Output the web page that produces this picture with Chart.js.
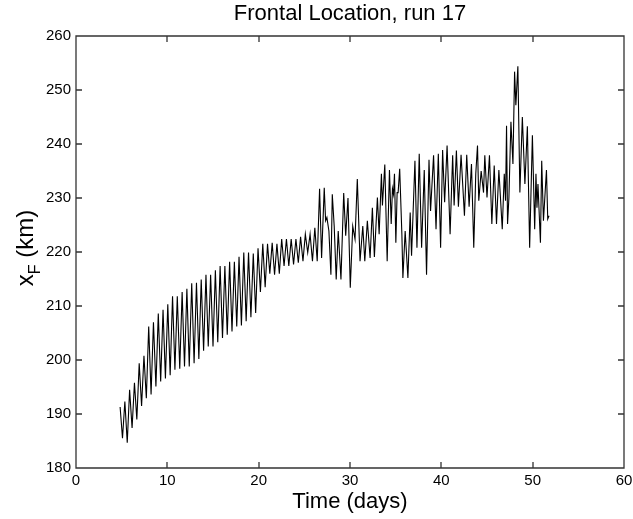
<!DOCTYPE html>
<html>
<head>
<meta charset="utf-8">
<script src="https://cdn.jsdelivr.net/npm/chart.js@4.4.1/dist/chart.umd.min.js"></script>
<style>
  html, body { margin: 0; padding: 0; background: #fff; }
  #wrap { width: 633px; height: 519px; }
</style>
</head>
<body>
<div id="wrap"><canvas id="frontChart" width="633" height="519"></canvas></div>
<script>
// time (days) and frontal position x_F (km)
const days = [
  4.83, 5.09, 5.35, 5.61, 5.87, 6.14, 6.40, 6.66, 6.92, 7.18,
  7.44, 7.70, 7.96, 8.22, 8.48, 8.75, 9.01, 9.27, 9.53, 9.79,
  10.05, 10.31, 10.57, 10.83, 11.09, 11.36, 11.62, 11.88, 12.14, 12.40,
  12.67, 12.93, 13.19, 13.45, 13.71, 13.97, 14.23, 14.48, 14.74, 15.00,
  15.26, 15.52, 15.78, 16.04, 16.30, 16.56, 16.82, 17.08, 17.34, 17.60,
  17.85, 18.11, 18.37, 18.63, 18.89, 19.15, 19.41, 19.67, 19.93, 20.19,
  20.45, 20.71, 20.97, 21.22, 21.48, 21.74, 22.00, 22.26, 22.52, 22.78,
  23.04, 23.30, 23.56, 23.82, 24.08, 24.34, 24.59, 24.85, 25.11, 25.37,
  25.63, 25.89, 26.15, 26.41,
  26.67, 26.89, 27.18, 27.33, 27.47, 27.69, 27.91, 28.06, 28.27, 28.49,
  28.71, 29.01, 29.31, 29.53, 29.78, 30.03, 30.30, 30.55, 30.80, 31.10,
  31.40, 31.62, 31.90, 32.20, 32.45, 32.67, 33.00, 33.19, 33.44, 33.55,
  33.81, 34.07, 34.32, 34.51, 34.65, 34.76, 34.87, 35.02, 35.16, 35.27,
  35.44, 35.68, 35.79, 36.04, 36.34, 36.59, 36.74, 37.11, 37.33, 37.58,
  37.84, 38.13, 38.38, 38.65, 38.82, 39.15, 39.42, 39.67, 39.92, 40.14,
  40.36, 40.63, 40.96, 41.24, 41.40, 41.65, 41.87, 42.16, 42.53, 42.78,
  43.04, 43.30, 43.55, 43.77, 43.96, 44.10, 44.36, 44.62, 44.76, 45.00,
  45.27, 45.53, 45.79, 46.04, 46.30, 46.67, 46.89, 47.03, 47.14, 47.25,
  47.40, 47.62, 47.84, 48.02, 48.16, 48.38, 48.60, 48.87, 49.15, 49.42,
  49.67, 49.97, 50.22, 50.36, 50.47, 50.58, 50.85, 50.99, 51.18, 51.51,
  51.65, 51.79
];
const xF = [
  191.3, 185.5, 192.3, 184.7, 194.5, 187.4, 195.8, 189.0, 199.4, 191.5,
  200.8, 192.9, 206.2, 193.6, 207.0, 195.1, 208.6, 196.0, 209.3, 196.6,
  210.3, 197.2, 211.8, 198.2, 211.8, 198.4, 212.6, 198.8, 213.2, 198.8,
  214.2, 199.4, 214.3, 200.2, 214.9, 201.7, 215.8, 202.5, 215.8, 202.5,
  216.6, 203.3, 217.4, 204.1, 217.4, 204.7, 218.2, 205.3, 218.2, 206.2,
  219.1, 206.4, 219.9, 207.2, 219.9, 207.9, 219.7, 208.7, 220.7, 212.6,
  221.5, 213.5, 221.5, 216.0, 221.7, 215.8, 221.5, 216.0, 222.4, 217.4,
  222.4, 217.4, 222.4, 217.7, 222.4, 218.0, 222.8, 218.3, 223.3, 219.9,
  223.3, 218.3, 224.5, 218.3,
  231.7, 218.9, 231.9, 225.8, 226.4, 223.9, 215.8, 230.7, 224.8, 214.9,
  223.9, 214.9, 230.9, 223.0, 230.0, 213.4, 224.8, 222.4, 233.5, 218.3,
  224.8, 218.3, 225.8, 218.9, 228.2, 219.1, 230.1, 223.3, 234.5, 228.6,
  236.2, 218.3, 235.2, 225.2, 231.7, 230.7, 234.5, 221.7, 231.0, 231.0,
  235.4, 223.3, 215.2, 223.9, 215.2, 227.3, 219.3, 236.9, 220.8, 238.2,
  220.8, 235.2, 215.8, 237.1, 227.6, 237.9, 224.2, 238.2, 220.8, 238.9,
  229.2, 239.7, 223.3, 237.9, 228.6, 238.8, 228.4, 238.0, 226.7, 238.0,
  228.4, 236.3, 220.8, 234.5, 239.7, 229.5, 235.0, 231.0, 237.9, 230.1,
  237.9, 225.2, 236.0, 225.2, 235.2, 224.2, 234.5, 229.5, 243.4, 225.2,
  230.1, 244.1, 236.3, 253.4, 247.2, 254.4, 231.0, 245.0, 232.6, 243.3,
  220.8, 241.6, 224.2, 234.5, 228.2, 232.6, 221.7, 236.9, 225.8, 235.2,
  226.1, 226.7
];
const xTicks = [0, 10, 20, 30, 40, 50, 60];
const yTicks = [180, 190, 200, 210, 220, 230, 240, 250, 260];
const titleText = 'Frontal Location, run 17';

const FONT = "'Liberation Sans', Arial, Helvetica, sans-serif";

// matlab style box with inward ticks, title over the axes, y label with subscript
const frameTicks = {
    id: 'frameTicks',
    afterDraw(chart) {
        const { ctx, chartArea: a, scales } = chart;
        const L = Math.round(a.left), R = Math.round(a.right);
        const T = Math.round(a.top), B = Math.round(a.bottom);
        const tl = 6;
        ctx.save();
        ctx.strokeStyle = '#333';
        ctx.lineWidth = 1.3;
        ctx.lineCap = 'square';
        ctx.beginPath();
        ctx.moveTo(L, T); ctx.lineTo(R, T);
        ctx.moveTo(R, T); ctx.lineTo(R, B);
        ctx.moveTo(R, B); ctx.lineTo(L, B);
        ctx.moveTo(L, B); ctx.lineTo(L, T);
        ctx.stroke();
        ctx.lineCap = 'butt';
        ctx.beginPath();
        xTicks.slice(1, -1).forEach(v => {
            const px = Math.round(scales.x.getPixelForValue(v));
            ctx.moveTo(px, B); ctx.lineTo(px, B - tl);
            ctx.moveTo(px, T); ctx.lineTo(px, T + tl);
        });
        yTicks.slice(1, -1).forEach(v => {
            const py = Math.round(scales.y.getPixelForValue(v));
            ctx.moveTo(L, py); ctx.lineTo(L + tl, py);
            ctx.moveTo(R, py); ctx.lineTo(R - tl, py);
        });
        ctx.stroke();

        ctx.fillStyle = '#000';
        ctx.font = '22px ' + FONT;
        ctx.textAlign = 'center';
        ctx.textBaseline = 'middle';
        ctx.fillText(titleText, (a.left + a.right) / 2, 14);

        // y axis title: x_F (km)
        ctx.textAlign = 'left';
        ctx.textBaseline = 'alphabetic';
        ctx.translate(33, (a.top + a.bottom) / 2);
        ctx.rotate(-Math.PI / 2);
        ctx.font = '24px ' + FONT;
        const w1 = ctx.measureText('x').width;
        const w3 = ctx.measureText(' (km)').width;
        ctx.font = '16px ' + FONT;
        const w2 = ctx.measureText('F').width;
        const sx = -(w1 + w2 + w3) / 2 + 4;
        ctx.font = '24px ' + FONT;
        ctx.fillText('x', sx, 0);
        ctx.font = '16px ' + FONT;
        ctx.fillText('F', sx + w1, 7);
        ctx.font = '24px ' + FONT;
        ctx.fillText(' (km)', sx + w1 + w2, 0);
        ctx.restore();
    }
};

const ctx = document.getElementById('frontChart').getContext('2d');
new Chart(ctx, {
    type: 'line',
    data: {
        datasets: [{
            data: days.map((d, i) => ({ x: d, y: xF[i] })),
            borderColor: '#000',
            borderWidth: 1.1,
            pointRadius: 0,
            tension: 0,
            fill: false
        }]
    },
    options: {
        responsive: false,
        animation: false,
        layout: { padding: { left: 0, right: 9, top: 36, bottom: 0 } },
        plugins: {
            legend: { display: false },
            tooltip: { enabled: false },
            title: { display: false }
        },
        scales: {
            x: {
                type: 'linear',
                min: 0,
                max: 60,
                afterBuildTicks: s => { s.ticks = xTicks.map(v => ({ value: v })); },
                afterFit: s => { s.height = 51; s.paddingLeft = 0; s.paddingRight = 0; },
                grid: { display: false, drawTicks: false },
                border: { display: false },
                ticks: { color: '#000', font: { family: FONT, size: 15 }, padding: 4, maxRotation: 0 },
                title: { display: true, text: 'Time (days)', color: '#000', font: { family: FONT, size: 22 }, padding: { top: 0, bottom: 4 } }
            },
            y: {
                type: 'linear',
                min: 180,
                max: 260,
                afterBuildTicks: s => { s.ticks = yTicks.map(v => ({ value: v })); },
                afterFit: s => { s.width = 76; s.paddingTop = 0; s.paddingBottom = 0; },
                grid: { display: false, drawTicks: false },
                border: { display: false },
                ticks: { color: '#000', font: { family: FONT, size: 15 }, padding: 5 }
            }
        }
    },
    plugins: [frameTicks]
});
</script>
</body>
</html>
